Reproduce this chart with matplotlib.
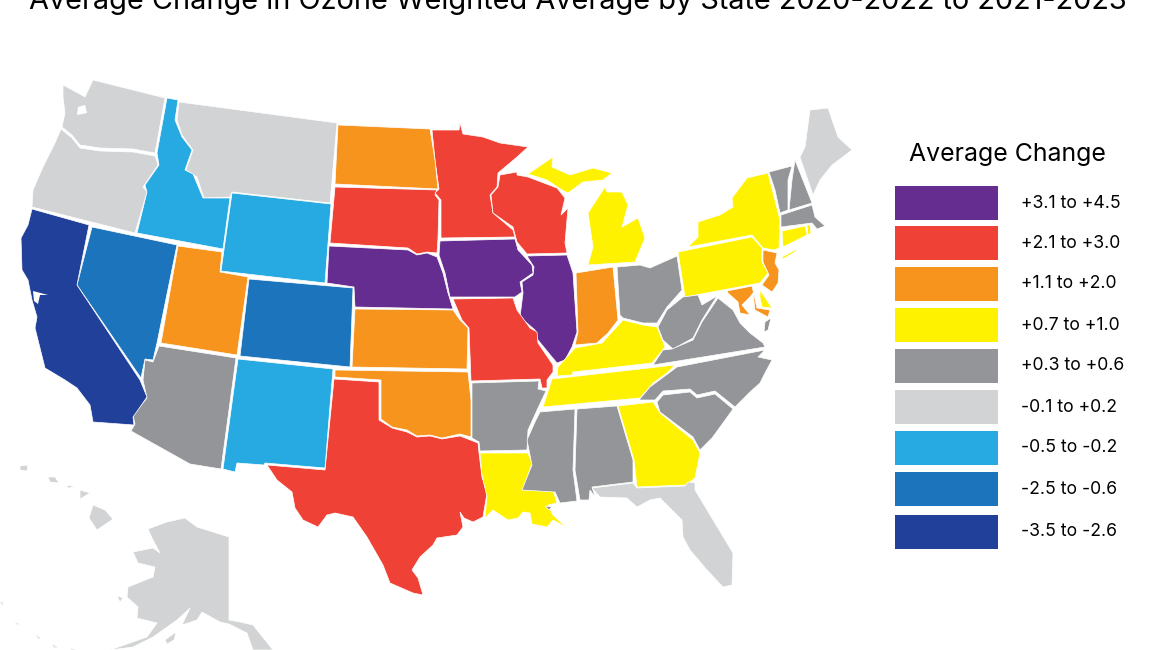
import matplotlib
matplotlib.use('Agg')
import matplotlib.pyplot as plt
from matplotlib.patches import Polygon, Rectangle

plt.rcParams['font.family'] = ['Inter', 'DejaVu Sans']

title = 'Average Change in Ozone Weighted Average by State 2020-2022 to 2021-2023'
legend_title = 'Average Change'
bin_labels = ['+3.1 to +4.5', '+2.1 to +3.0', '+1.1 to +2.0', '+0.7 to +1.0', '+0.3 to +0.6',
              '-0.1 to +0.2', '-0.5 to -0.2', '-2.5 to -0.6', '-3.5 to -2.6']
bin_colors = ['#662d91', '#ef4136', '#f7941d', '#fff200', '#939598',
              '#d1d3d4', '#27aae1', '#1c75bc', '#21409a']

# states in each legend bin, same order as bin_labels
bin_states = [
    ['NE', 'IA', 'IL'],
    ['SD', 'MN', 'WI', 'MO', 'TX'],
    ['ND', 'UT', 'KS', 'OK', 'IN', 'NJ', 'MD'],
    ['MI', 'NY', 'PA', 'KY', 'TN', 'GA', 'LA', 'CT', 'RI', 'DE'],
    ['AZ', 'AR', 'MS', 'AL', 'OH', 'WV', 'VA', 'NC', 'SC', 'VT', 'NH', 'MA'],
    ['WA', 'OR', 'MT', 'ME', 'FL', 'AK', 'HI'],
    ['ID', 'WY', 'NM'],
    ['NV', 'CO'],
    ['CA'],
]

# state outlines, in image pixels (no shapefile available offline)
outlines = {
    'WA': [[(63,85),(78,93),(85,97),(93,80),(165,98),(155,153),(133,149),(100,148),(80,145),(72,135),(62,127),(65,113),(63,97)]],
    'OR': [[(61,129),(72,138),(80,148),(100,151),(133,152),(155,156),(158,165),(143,187),(147,192),(135,233),(32,207),(33,190),(43,167),(55,143)]],
    'ID': [[(167,98),(178,100),(175,120),(182,137),(192,150),(185,170),(193,174),(203,198),(230,198),(223,249),(137,233),(147,192),(145,185),(159,165),(157,153)]],
    'MT': [[(179,102),(337,123),(330,203),(232,192),(230,197),(204,198),(197,177),(186,170),(193,150),(182,135),(177,120)]],
    'WY': [[(232,193),(331,204),(325,283),(221,271)]],
    'ND': [[(338,125),(430,129),(435,160),(438,189),(335,184)]],
    'SD': [[(335,187),(437,190),(435,195),(439,200),(438,238),(437,253),(427,252),(417,254),(408,248),(330,243)]],
    'NE': [[(329,246),(408,250),(417,255),(427,253),(437,257),(443,273),(448,293),(453,309),(355,307),(354,287),(327,283)]],
    'MN': [[(432,130),(459,130),(460,123),(463,134),(483,137),(500,143),(528,147),(517,157),(498,173),(497,187),(490,195),(493,213),(513,230),(515,237),(441,238),(441,200),(435,193),(439,189),(435,160)]],
    'WI': [[(500,175),(517,172),(517,175),(528,177),(557,188),(565,198),(561,215),(568,208),(565,243),(567,253),(527,254),(517,242),(513,227),(493,213),(491,195),(498,187)]],
    'IA': [[(440,241),(515,239),(518,250),(532,265),(533,273),(520,282),(522,292),(515,297),(450,297),(445,273),(439,255)]],
    'IL': [[(527,256),(567,255),(573,273),(577,332),(572,347),(565,360),(557,363),(552,357),(538,340),(535,330),(520,317),(523,293),(522,282),(533,275),(534,267)]],
    'KS': [[(355,309),(453,310),(460,320),(468,328),(467,369),(352,367)]],
    'OK': [[(335,370),(468,372),(471,400),(471,437),(460,434),(442,438),(430,435),(417,436),(407,430),(392,427),(381,419),(381,380),(335,377)]],
    'TX': [[(334,379),(379,382),(379,420),(392,428),(407,432),(417,437),(430,436),(442,439),(460,436),(478,443),(479,453),(482,477),(487,493),(483,517),(473,522),(464,518),(460,512),(463,527),(457,535),(437,538),(433,545),(420,557),(412,570),(418,578),(423,595),(413,593),(390,583),(383,565),(367,537),(353,517),(335,513),(327,515),(318,527),(303,520),(295,508),(292,492),(277,480),(267,465),(325,470)]],
    'NM': [[(238,359),(333,369),(325,468),(265,463),(264,465),(237,463),(235,472),(223,469)]],
    'AZ': [[(159,346),(236,358),(221,469),(190,464),(131,431),(135,424),(133,415),(147,398),(143,380),(145,360),(153,362)]],
    'CO': [[(249,279),(353,288),(350,367),(240,356)]],
    'UT': [[(178,246),(222,252),(220,272),(248,277),(237,355),(161,343)]],
    'NV': [[(92,227),(177,245),(157,343),(153,360),(145,359),(141,378),(77,285)]],
    'CA': [[(32,209),(89,225),(77,285),(140,380),(147,397),(133,417),(134,425),(93,422),(90,405),(77,388),(65,380),(45,368),(35,328),(37,317),(32,300),(28,280),(22,270),(21,238),(28,225)]],
    'MO': [[(453,299),(513,298),(517,310),(530,328),(537,332),(538,343),(553,365),(553,372),(547,380),(547,388),(542,388),(540,379),(471,381),(469,328),(462,320)]],
    'AR': [[(472,383),(539,381),(538,389),(546,391),(538,408),(528,430),(527,450),(480,451),(479,442),(472,438)]],
    'LA': [[(480,453),(528,453),(532,463),(523,490),(553,490),(557,503),(548,505),(553,515),(566,527),(553,520),(547,527),(532,524),(530,513),(523,512),(518,518),(508,520),(493,510),(485,518),(487,497),(482,475)]],
    'MS': [[(540,412),(575,409),(573,470),(577,501),(560,503),(555,492),(522,490),(532,465),(527,440),(535,422)], [(545,506),(552,507),(549,510)]],
    'AL': [[(577,409),(617,406),(633,460),(633,482),(592,487),(595,497),(590,490),(589,500),(580,500),(575,470)]],
    'GA': [[(618,406),(653,402),(660,413),(693,440),(700,453),(695,478),(686,485),(637,487),(634,460)]],
    'FL': [[(592,488),(633,483),(637,488),(685,486),(688,482),(695,483),(695,490),(733,553),(732,585),(723,587),(707,570),(690,550),(683,537),(682,520),(660,498),(650,500),(637,507),(627,498),(600,497)]],
    'SC': [[(657,402),(663,395),(690,392),(697,398),(715,394),(733,409),(723,423),(712,438),(700,450),(693,437),(660,412)]],
    'NC': [[(677,367),(765,350),(758,357),(772,360),(765,373),(760,383),(750,392),(735,407),(715,391),(697,395),(690,389),(663,391),(655,400),(639,400),(650,387)]],
    'VA': [[(653,365),(663,350),(672,349),(693,340),(702,322),(718,298),(733,310),(740,323),(750,333),(763,343),(765,347)], [(765,322),(771,318),(768,330),(764,332)]],
    'WV': [[(683,297),(698,295),(702,305),(717,296),(702,320),(693,338),(673,349),(663,340),(658,327),(667,310)]],
    'OH': [[(617,267),(640,265),(650,268),(677,256),(682,290),(667,307),(657,323),(643,323),(623,318),(620,315)]],
    'IN': [[(576,273),(613,267),(618,320),(608,333),(597,343),(575,345),(578,332)]],
    'KY': [[(575,348),(602,343),(623,320),(643,325),(657,327),(665,347),(652,363),(573,372),(572,375),(557,376),(558,367)]],
    'TN': [[(552,379),(675,365),(667,373),(653,383),(640,398),(543,407)]],
    'MI': [[(588,265),(635,262),(645,238),(638,218),(622,227),(628,205),(622,192),(607,192),(605,187),(588,213),(593,247)],
           [(528,174),(553,157),(552,167),(570,175),(593,168),(612,173),(603,180),(583,182),(568,193),(562,190),(547,180)]],
    'PA': [[(678,252),(752,237),(762,248),(762,262),(768,273),(760,283),(685,297)]],
    'NY': [[(688,247),(698,237),(698,222),(720,215),(733,207),(732,198),(747,178),(768,173),(780,220),(779,248),(774,250),(763,248),(752,235)],
           [(782,257),(797,249),(795,252),(783,259)]],
    'NJ': [[(763,250),(777,253),(775,263),(779,270),(778,283),(772,292),(762,285),(769,275),(763,262)]],
    'MD': [[(727,291),(752,286),(757,308),(770,310),(768,317),(755,310),(753,293),(750,297),(742,305),(750,315),(740,313),(738,302),(728,293)]],
    'DE': [[(760,290),(772,308),(762,307),(760,298)]],
    'CT': [[(782,231),(805,226),(807,235),(783,247)]],
    'RI': [[(807,225),(810,225),(811,233),(808,235)]],
    'MA': [[(781,215),(812,205),(815,217),(825,226),(817,229),(812,223),(781,227)]],
    'VT': [[(769,172),(792,166),(788,180),(788,210),(780,213),(775,190)]],
    'NH': [[(795,160),(812,203),(789,210),(792,180)]],
    'ME': [[(800,157),(805,147),(810,110),(828,108),(838,137),(852,150),(832,165),(820,180),(813,195)]],
    'HI': [[(93,505),(105,510),(113,519),(97,530),(89,518)], [(80,490),(90,493),(80,499)],
           [(48,477),(55,477),(59,483),(50,482)], [(20,466),(28,465),(27,471),(20,470)], [(67,485),(75,487),(68,488)]],
    'AK': [[(148,529),(167,522),(185,518),(197,527),(229,537),(229,620),(240,622),(253,625),(273,650),(253,650),(247,633),(229,624),(220,622),(202,612),(197,620),(182,625),(190,608),(177,620),(153,637),(133,647),(110,650),(147,637),(157,623),(137,618),(138,607),(127,597),(128,587),(153,577),(155,567),(138,563),(133,552),(153,548),(160,553),(152,538)],
           [(117,596),(123,598),(120,602)], [(165,640),(176,632),(174,640),(167,644)]],
}

# lakes and bays left white in the map
holes = [
    [(78,107),(85,105),(87,113),(77,115)],
    [(33,291),(48,295),(40,295),(38,304),(34,301)],
]

# faint specks of the outer Aleutians
aleutians = [
    [(0,602),(3,602),(3,606)],
    [(15,622),(19,624),(17,625)],
    [(36,635),(41,638),(38,639)],
    [(52,644),(58,647),(54,648)],
    [(70,648),(76,650),(72,650)],
]

fig, ax = plt.subplots(figsize=(11.7, 6.5), dpi=100)
ax.set_position([0, 0, 1, 1])
ax.set_xlim(0, 1170)
ax.set_ylim(650, 0)
ax.axis('off')

for states, color in zip(bin_states, bin_colors):
    for st in states:
        for pts in outlines[st]:
            ax.add_patch(Polygon(pts, closed=True, facecolor=color, edgecolor='white', linewidth=0.5))
for pts in holes:
    ax.add_patch(Polygon(pts, closed=True, facecolor='white', edgecolor='none'))
for pts in aleutians:
    ax.add_patch(Polygon(pts, closed=True, facecolor='#e6e7e8', edgecolor='none'))

# the title runs off the top edge in the reference too
ax.text(578, 9, title, ha='center', va='baseline', fontsize=20.8, color='black')
ax.text(1007, 155, legend_title, ha='center', va='center', fontsize=17.9, color='black')

# legend swatches
swatch_tops = [186, 226, 267, 308, 349, 390, 431, 472, 515]
for top, label, color in zip(swatch_tops, bin_labels, bin_colors):
    ax.add_patch(Rectangle((895, top), 103, 34, facecolor=color, edgecolor='none'))
    ax.text(1021, top + 17, label, ha='left', va='center', fontsize=12.7, color='black')

fig.savefig('out.png', dpi=100)
